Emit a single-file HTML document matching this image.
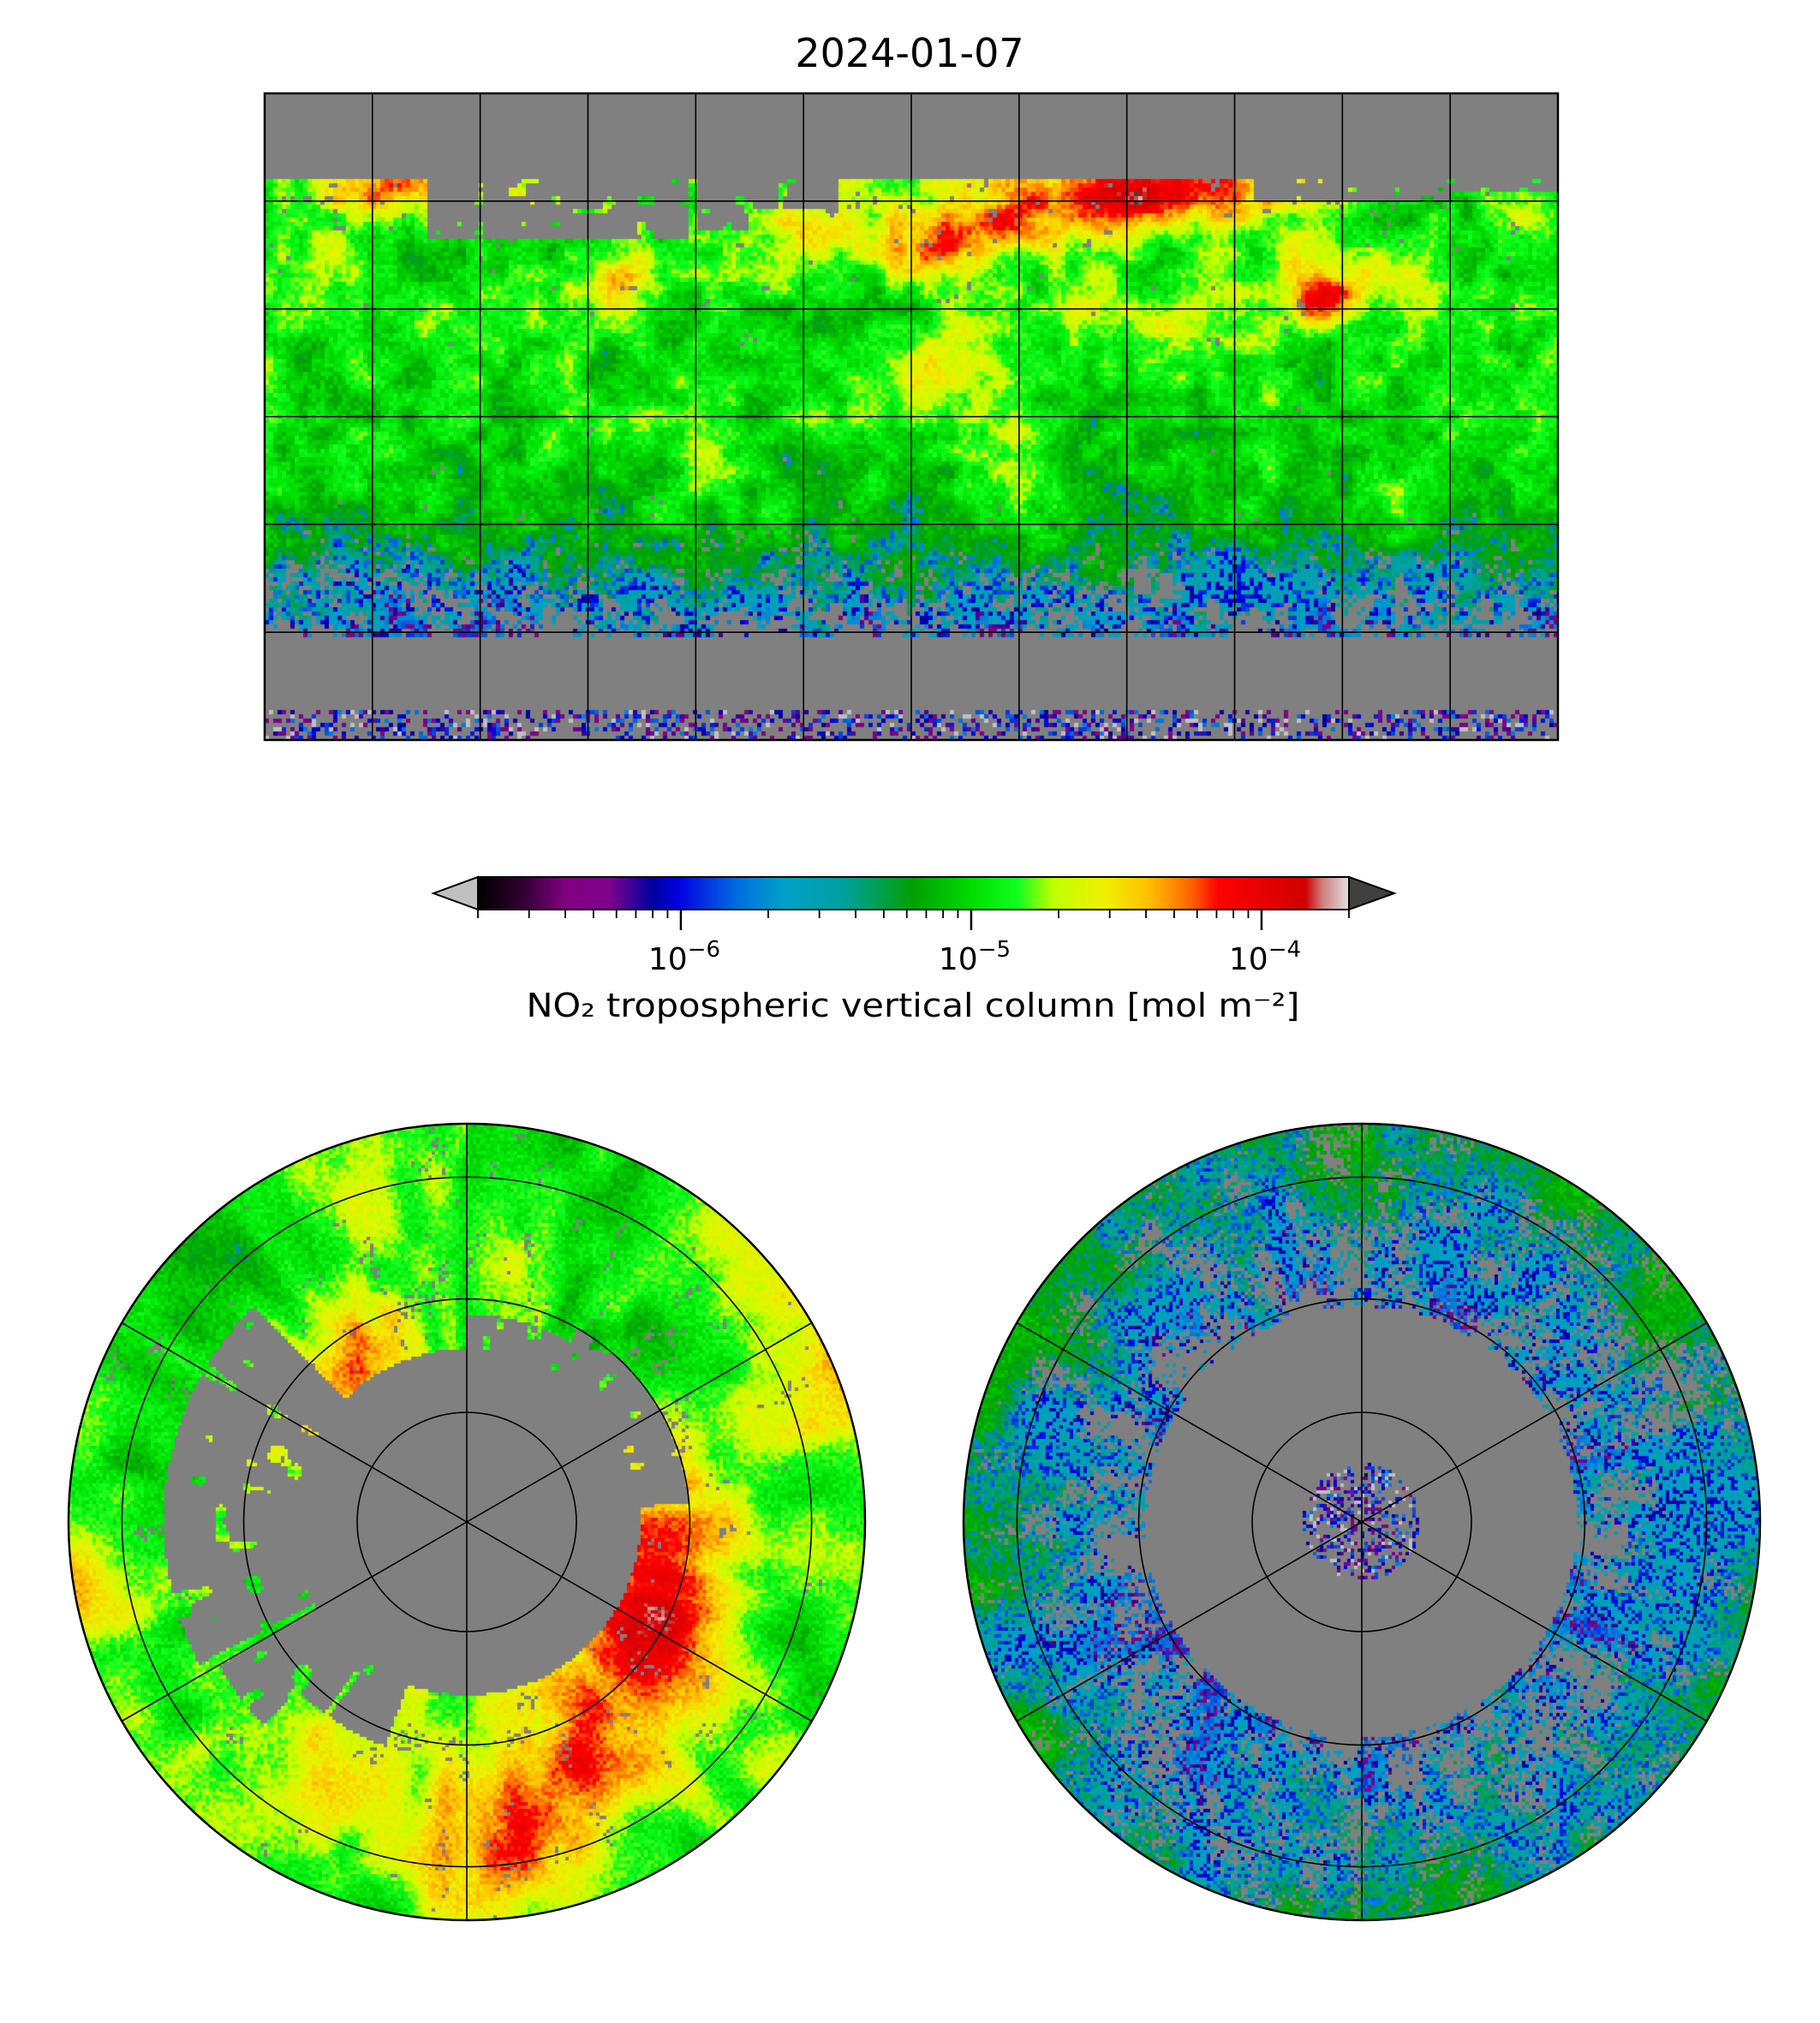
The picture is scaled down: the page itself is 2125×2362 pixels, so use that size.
<!DOCTYPE html>
<html><head><meta charset="utf-8">
<style>
html,body{margin:0;padding:0;background:#fff;}
#root{position:relative;width:2125px;height:2362px;overflow:hidden;font-family:"DejaVu Sans","Liberation Sans",sans-serif;}
canvas{position:absolute;left:0;top:0;}
svg{position:absolute;left:0;top:0;}
</style></head>
<body>
<div id="root">
<canvas id="cv" width="2125" height="2362"></canvas>
<svg id="ov" width="2125" height="2362">
  <defs>
    <linearGradient id="cmap" x1="0" x2="1" y1="0" y2="0">
      <stop offset="0" stop-color="#000000"/>
      <stop offset="0.05" stop-color="#300030"/>
      <stop offset="0.1" stop-color="#800080"/>
      <stop offset="0.15" stop-color="#80008c"/>
      <stop offset="0.2" stop-color="#0000a0"/>
      <stop offset="0.23" stop-color="#0000e0"/>
      <stop offset="0.3" stop-color="#0070e0"/>
      <stop offset="0.35" stop-color="#00a0c8"/>
      <stop offset="0.42" stop-color="#00a0a0"/>
      <stop offset="0.46" stop-color="#00a050"/>
      <stop offset="0.5" stop-color="#00a000"/>
      <stop offset="0.57" stop-color="#00e000"/>
      <stop offset="0.62" stop-color="#10ff20"/>
      <stop offset="0.66" stop-color="#c0ff00"/>
      <stop offset="0.72" stop-color="#f0f000"/>
      <stop offset="0.77" stop-color="#ffc000"/>
      <stop offset="0.82" stop-color="#ff6000"/>
      <stop offset="0.85" stop-color="#ff0000"/>
      <stop offset="0.95" stop-color="#d00000"/>
      <stop offset="0.97" stop-color="#d08080"/>
      <stop offset="1" stop-color="#e0e0e0"/>
    </linearGradient>
  </defs>
  <text x="1062" y="78" text-anchor="middle" font-size="46" font-family="DejaVu Sans, Liberation Sans, sans-serif">2024-01-07</text>
  <g id="cbar">
    <polygon points="558,1024 506,1043 558,1062" fill="#c0c0c0" stroke="#000" stroke-width="2"/>
    <polygon points="1575,1024 1628,1043 1575,1062" fill="#404040" stroke="#000" stroke-width="2"/>
    <rect x="558" y="1024" width="1017" height="38" fill="url(#cmap)" stroke="#000" stroke-width="2"/>
  </g>
  <text x="1066" y="1187" text-anchor="middle" font-size="38" textLength="903" lengthAdjust="spacingAndGlyphs" font-family="DejaVu Sans, Liberation Sans, sans-serif">NO₂ tropospheric vertical column [mol m⁻²]</text>
</svg>
</div>
<script>
// ---- data ----
const cbarMin = 2e-7, cbarMax = 2e-4;
const cbarMajorTicks = [1e-6, 1e-5, 1e-4];
const cbarTickLabels = ["−6", "−5", "−4"];
const latProfileLats = [66, 60, 50, 40, 30, 20, 10, 0, -10, -20, -30, -40, -50, -61];
const latProfileVals = [0.62, 0.60, 0.59, 0.60, 0.59, 0.58, 0.58, 0.57, 0.56, 0.54, 0.51, 0.46, 0.40, 0.34];
const hotLon = [12, 38, 60, 115, 105, 78, -80, -95, 10, 25, -150, -2, -25, -170, 48, 27, -55, 135, -110, 130, 90, 60];
const hotLat = [50, 55, 58, 32, 40, 25, 38, 32, 10, -5, 63, 45, 50, 50, 30, -25, -15, -25, 62, 40, 62, 64];
const hotAmp = [0.22, 0.2, 0.18, 0.3, 0.1, 0.1, 0.18, 0.08, 0.12, 0.07, 0.2, 0.12, 0.12, 0.06, 0.1, 0.09, 0.06, 0.07, 0.08, 0.1, 0.16, 0.18];
const hotRad = [7, 8, 6, 5, 8, 8, 5, 7, 10, 9, 5, 5, 8, 9, 6, 6, 10, 8, 8, 5, 6, 6];
const gapLats = [66, 40, 20, -20, -35, -45, -61];
const gapProb = [0.2, 0.12, 0.06, 0.08, 0.18, 0.32, 0.48];
// regions without retrievals (snow/ice): lon0, lon1, lat0, lat1
const noDataLon0 = [-135, -60, -55, 95, 150];
const noDataLon1 = [-62, -45, -20, 150, 180];
const noDataLat0 = [50, 52, 58, 60, 62];
const noDataLat1 = [67, 67, 67, 67, 67];

// ---- colormap ----
const stops = [[0,"#000000"],[0.05,"#300030"],[0.1,"#800080"],[0.15,"#80008c"],[0.2,"#0000a0"],[0.23,"#0000e0"],[0.3,"#0070e0"],[0.35,"#00a0c8"],[0.42,"#00a0a0"],[0.46,"#00a050"],[0.5,"#00a000"],[0.57,"#00e000"],[0.62,"#10ff20"],[0.66,"#c0ff00"],[0.72,"#f0f000"],[0.77,"#ffc000"],[0.82,"#ff6000"],[0.85,"#ff0000"],[0.95,"#d00000"],[0.97,"#d08080"],[1,"#e0e0e0"]].map(s=>[s[0],parseInt(s[1].slice(1,3),16),parseInt(s[1].slice(3,5),16),parseInt(s[1].slice(5,7),16)]);
function cmap(v){
  if(v===null) return "rgb(128,128,128)";
  if(v>1) return "rgb(64,64,64)";
  if(v<0) return "rgb(192,192,192)";
  for(let i=1;i<stops.length;i++){
    if(v<=stops[i][0]){const a=stops[i-1],b=stops[i];const t=(v-a[0])/(b[0]-a[0]);
      return `rgb(${Math.round(a[1]+(b[1]-a[1])*t)},${Math.round(a[2]+(b[2]-a[2])*t)},${Math.round(a[3]+(b[3]-a[3])*t)})`;}
  }
  return "rgb(224,224,224)";
}
function hash(i,j,s){let h=Math.sin(i*127.1+j*311.7+s*74.7)*43758.5453;return h-Math.floor(h);}
function snoise(x,y,s){const i=Math.floor(x),j=Math.floor(y),fx=x-i,fy=y-j;
  const a=hash(i,j,s),b=hash(i+1,j,s),c=hash(i,j+1,s),d=hash(i+1,j+1,s);
  const ux=fx*fx*(3-2*fx),uy=fy*fy*(3-2*fy);
  return (a*(1-ux)+b*ux)*(1-uy)+(c*(1-ux)+d*ux)*uy;}
function interp(xs,ys,x){
  if(x>=xs[0]) return ys[0]; if(x<=xs[xs.length-1]) return ys[ys.length-1];
  for(let i=1;i<xs.length;i++) if(x>=xs[i]){const t=(x-xs[i])/(xs[i-1]-xs[i]);return ys[i]+(ys[i-1]-ys[i])*t;}
  return ys[ys.length-1];}
function valueAt(lon,lat,ci,cj){
  const ph=hash(ci,cj,3);
  if(lat< -82){ if(ph<0.6) return null; if(ph>0.93) return -0.1; return 0.1+hash(ci,cj,5)*0.22; }
  if(lat>66.5||lat< -61) return null;
  for(let k=0;k<noDataLon0.length;k++){
    if(lon>=noDataLon0[k]&&lon<=noDataLon1[k]&&lat>=noDataLat0[k]&&lat<=noDataLat1[k]&&snoise(lon/3,lat/3,9)>0.2) return null;
  }
  let v=interp(latProfileLats,latProfileVals,lat);
  const cl=Math.cos(lat*Math.PI/180);
  for(let k=0;k<hotLon.length;k++){
    let dl=lon-hotLon[k]; dl=((dl+540)%360)-180; dl*=cl;
    const dt=lat-hotLat[k]; const d2=dl*dl+dt*dt;
    v+=hotAmp[k]*Math.exp(-d2/(2*hotRad[k]*hotRad[k]));
  }
  v+=(snoise(lon/5,lat/5,1)-0.5)*0.12+(snoise(lon/14,lat/14,2)-0.5)*0.1+(hash(ci,cj,4)-0.5)*0.06;
  const gp=interp(gapLats,gapProb,lat);
  const g=snoise(lon/4,lat/4,6)*0.6+ph*0.4;
  if(g<gp) return null;
  if(v<0.48 && hash(ci,cj,7)<0.3) v-=0.15;
  if(v>0.97 && hash(ci,cj,8)<0.5) v=1.1;
  return v;
}
const cv=document.getElementById('cv');const ctx=cv.getContext('2d');
// ---- equirectangular ----
const mx0=309,my0=109,mx1=1819,my1=864;
const sx=(mx1-mx0)/360, sy=(my1-my0)/180;
const xOf=lon=>mx0+(lon+180)*sx, yOf=lat=>my0+(90-lat)*sy;
const cs=5;
for(let y=my0;y<my1;y+=cs){for(let x=mx0;x<mx1;x+=cs){
  const lon=(x+cs/2-mx0)/sx-180, lat=90-(y+cs/2-my0)/sy;
  ctx.fillStyle=cmap(valueAt(lon,lat,Math.round(lon*3),Math.round(lat*3)));
  ctx.fillRect(x,y,Math.min(cs,mx1-x),Math.min(cs,my1-y));}}
// ---- polar (stereographic) ----
const pr=465,pk=972;
function polar(cx,cy,north){
  const c=4;
  for(let y=-pr;y<pr;y+=c){for(let x=-pr;x<pr;x+=c){
    const dx=x+c/2,dy=y+c/2,r=Math.hypot(dx,dy); if(r>pr+c) continue;
    const colat=2*Math.atan(r/pk)*180/Math.PI;
    let lat,lon;
    if(north){lat=90-colat;lon=Math.atan2(dx,dy)*180/Math.PI;}
    else{lat=-(90-colat);lon=Math.atan2(dx,-dy)*180/Math.PI;}
    ctx.fillStyle=cmap(valueAt(lon,lat,Math.round(lon*3),Math.round(lat*3)));
    ctx.fillRect(cx+x,cy+y,c,c);}}
}
ctx.save();ctx.beginPath();ctx.arc(545,1777,pr,0,2*Math.PI);ctx.clip();polar(545,1777,true);ctx.restore();
ctx.save();ctx.beginPath();ctx.arc(1590,1777,pr,0,2*Math.PI);ctx.clip();polar(1590,1777,false);ctx.restore();

// ---- overlay ----
const NS="http://www.w3.org/2000/svg";const ov=document.getElementById('ov');
function mk(tag,attrs){const e=document.createElementNS(NS,tag);for(const k in attrs)e.setAttribute(k,attrs[k]);ov.appendChild(e);return e;}
for(let lon=-150;lon<180;lon+=30){
  const l=mk('line',{x1:xOf(lon),x2:xOf(lon),y1:my0,y2:my1,stroke:'#000','stroke-width':1.6});
  
  
}
for(let lat=-60;lat<=60;lat+=30){
  const l=mk('line',{x1:mx0,x2:mx1,y1:yOf(lat),y2:yOf(lat),stroke:'#000','stroke-width':1.6});
  
  
}
const fr=mk('rect',{x:mx0,y:my0,width:mx1-mx0,height:my1-my0,fill:'none',stroke:'#000','stroke-width':2.5});


function polarGrid(cx,cy,name){
  for(const lat of [75,60,45]){
    const r=pk*Math.tan((90-lat)/2*Math.PI/180);
    const c=mk('circle',{cx:cx,cy:cy,r:r,fill:'none',stroke:'#000','stroke-width':1.6});
    
    
  }
  for(const a of [0,60,120]){
    const t=a*Math.PI/180;
    const l=mk('line',{x1:cx-pr*Math.sin(t),y1:cy-pr*Math.cos(t),x2:cx+pr*Math.sin(t),y2:cy+pr*Math.cos(t),stroke:'#000','stroke-width':1.6});
    
    
  }
  const o=mk('circle',{cx:cx,cy:cy,r:pr,fill:'none',stroke:'#000','stroke-width':2.5});
  
  
}
polarGrid(545,1777,'north-polar-map');
polarGrid(1590,1777,'south-polar-map');
const cbx0=558,cbx1=1575,cby=1062;
const cbX=v=>cbx0+(Math.log10(v)-Math.log10(cbarMin))/(Math.log10(cbarMax)-Math.log10(cbarMin))*(cbx1-cbx0);
for(let e=-7;e<=-4;e++){for(let m=1;m<10;m++){
  const v=m*Math.pow(10,e); if(v<cbarMin*0.999||v>cbarMax*1.001) continue;
  const major=(m===1);
  const t=mk('line',{x1:cbX(v),x2:cbX(v),y1:cby,y2:cby+(major?24:10),stroke:'#000','stroke-width':major?2.5:1.8});
  
  
}}
cbarMajorTicks.forEach((v,i)=>{
  const tx=mk('text',{x:cbX(v)+4,y:1132,'text-anchor':'middle','font-size':36,'font-family':'DejaVu Sans, Liberation Sans, sans-serif'});
  
  
  tx.textContent='10';
  const sp=document.createElementNS(NS,'tspan');sp.setAttribute('dy','-15');sp.setAttribute('font-size','26');sp.textContent=cbarTickLabels[i];tx.appendChild(sp);
});
</script>
</body></html>
